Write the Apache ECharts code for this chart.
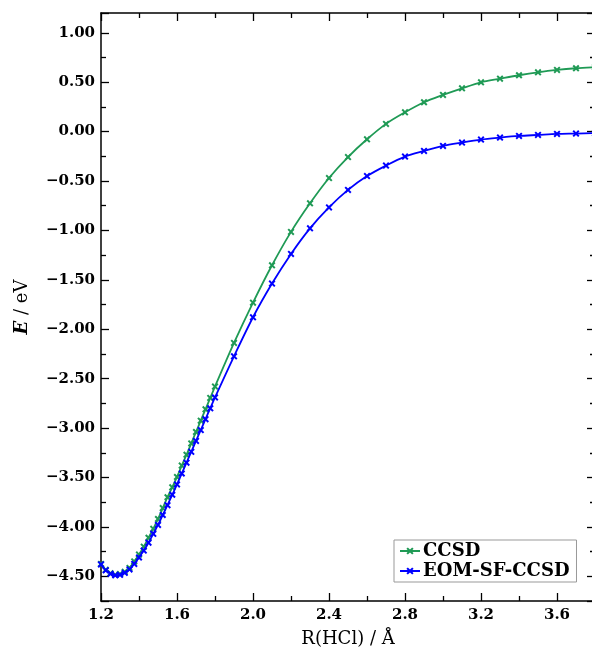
<!DOCTYPE html>
<html>
<head>
<meta charset="utf-8">
<script src="https://cdn.jsdelivr.net/npm/echarts@6/dist/echarts.min.js"></script>
<style>
html,body{margin:0;padding:0;background:#fff;}
#chart{width:592px;height:652px;}
</style>
</head>
<body>
<div id="chart"></div>
<script>
// Bond distance R(HCl) / Å
const rValues = [
  1.200, 1.225, 1.250, 1.275, 1.300, 1.325, 1.350, 1.375, 1.400, 1.425,
  1.450, 1.475, 1.500, 1.525, 1.550, 1.575, 1.600, 1.625, 1.650, 1.675,
  1.700, 1.725, 1.750, 1.775, 1.800,
  1.9, 2.0, 2.1, 2.2, 2.3, 2.4, 2.5, 2.6, 2.7, 2.8,
  2.9, 3.0, 3.1, 3.2, 3.3, 3.4, 3.5, 3.6, 3.7, 3.8
];
// CCSD energies / eV
const ccsd = [
  -4.375, -4.435, -4.470, -4.485, -4.478, -4.455, -4.415, -4.350, -4.280, -4.200,
  -4.110, -4.020, -3.920, -3.810, -3.700, -3.600, -3.495, -3.380, -3.270, -3.155,
  -3.040, -2.925, -2.810, -2.695, -2.580,
  -2.139, -1.731, -1.353, -1.015, -0.726, -0.470, -0.258, -0.078, 0.078, 0.195,
  0.297, 0.371, 0.438, 0.499, 0.535, 0.570, 0.600, 0.624, 0.641, 0.652
];
// EOM-SF-CCSD energies / eV
const eomSfCcsd = [
  -4.380, -4.440, -4.475, -4.490, -4.485, -4.465, -4.430, -4.375, -4.310, -4.240,
  -4.160, -4.070, -3.980, -3.880, -3.780, -3.675, -3.570, -3.460, -3.350, -3.240,
  -3.130, -3.020, -2.910, -2.800, -2.690,
  -2.274, -1.879, -1.538, -1.238, -0.979, -0.767, -0.590, -0.450, -0.344, -0.253,
  -0.196, -0.145, -0.111, -0.081, -0.061, -0.044, -0.034, -0.024, -0.020, -0.015
];
const seriesNames = ['CCSD', 'EOM-SF-CCSD'];
const seriesColors = ['#1f9a55', '#0000ff'];

const FONT = "'DejaVu Serif', serif";
const xMark = 'path://M2,0 L5,3 L8,0 L10,2 L7,5 L10,8 L8,10 L5,7 L2,10 L0,8 L3,5 L0,2 Z';

function fmtY(v) {
  if (Math.abs(v * 2 - Math.round(v * 2)) > 1e-6) return '';
  const s = Math.abs(v).toFixed(2);
  return (v < -1e-9 ? '\u2212' : '') + s;
}
function fmtX(v) { return v.toFixed(1); }

const axisLineStyle = {color: '#000', width: 1.5};
const tickStyle = {color: '#000', width: 1.3};

function yAxisCfg(pos, showLabels) {
  return {
    type: 'value', position: pos,
    min: -4.75, max: 1.2, splitNumber: 12, minInterval: 0.5, maxInterval: 0.5,
    axisLine: {show: true, lineStyle: axisLineStyle},
    axisTick: {show: true, inside: true, length: 8, lineStyle: tickStyle},
    minorTick: {show: true, splitNumber: 2, length: 5, lineStyle: tickStyle},
    splitLine: {show: false},
    axisLabel: {show: showLabels, margin: 6, formatter: fmtY, showMinLabel: false, showMaxLabel: false,
      color: '#000', fontFamily: FONT, fontSize: 15, fontWeight: 'bold'}
  };
}
function xAxisCfg(pos, showLabels) {
  return {
    type: 'value', position: pos,
    min: 1.2, max: 3.8, interval: 0.4,
    axisLine: {show: true, onZero: false, lineStyle: axisLineStyle},
    axisTick: {show: true, inside: true, length: 8, lineStyle: tickStyle},
    minorTick: {show: true, splitNumber: 2, length: 5, lineStyle: tickStyle},
    splitLine: {show: false},
    axisLabel: {show: showLabels, margin: 7, formatter: fmtX, showMaxLabel: false,
      color: '#000', fontFamily: FONT, fontSize: 15, fontWeight: 'bold'}
  };
}

const xBottom = xAxisCfg('bottom', true);
xBottom.name = 'R(HCl) / \u00C5';
xBottom.nameLocation = 'middle';
xBottom.nameGap = 29;
xBottom.nameTextStyle = {color: '#000', fontFamily: FONT, fontSize: 18};
const xTop = xAxisCfg('top', false);

const yLeft = yAxisCfg('left', true);
yLeft.name = '{i|E}{n| / eV}';
yLeft.nameLocation = 'middle';
yLeft.nameGap = 70;
yLeft.nameRotate = 90;
yLeft.nameTextStyle = {
  color: '#000', fontFamily: FONT, fontSize: 18,
  rich: {
    i: {fontFamily: FONT, fontSize: 18, fontStyle: 'italic', fontWeight: 'bold', color: '#000'},
    n: {fontFamily: FONT, fontSize: 18, color: '#000'}
  }
};
const yRight = yAxisCfg('right', false);

const seriesData = [ccsd, eomSfCcsd];
const series = seriesNames.map((name, k) => ({
  name: name,
  type: 'line',
  xAxisIndex: 0, yAxisIndex: 0,
  data: rValues.map((r, i) => [r, seriesData[k][i]]),
  smooth: 0.3,
  symbol: xMark,
  symbolSize: 7,
  showAllSymbol: true,
  color: seriesColors[k],
  lineStyle: {color: seriesColors[k], width: 1.8},
  itemStyle: {color: seriesColors[k]},
  z: 2 + k
}));

const chart = echarts.init(document.getElementById('chart'), null, {renderer: 'canvas'});
chart.setOption({
  animation: false,
  backgroundColor: '#fff',
  grid: {left: 101, top: 13, width: 494, height: 588, containLabel: false, outerBoundsMode: 'none'},
  xAxis: [xBottom, xTop],
  yAxis: [yLeft, yRight],
  legend: {
    data: seriesNames,
    orient: 'vertical',
    left: 394, top: 540,
    padding: [2, 7, 2, 5],
    itemGap: 2,
    itemWidth: 20, itemHeight: 9,
    backgroundColor: '#fff',
    borderColor: '#999', borderWidth: 1,
    textStyle: {color: '#000', fontFamily: FONT, fontSize: 18, fontWeight: 'bold', padding: [0, 0, 0, -2]}
  },
  series: series
});
</script>
</body>
</html>
